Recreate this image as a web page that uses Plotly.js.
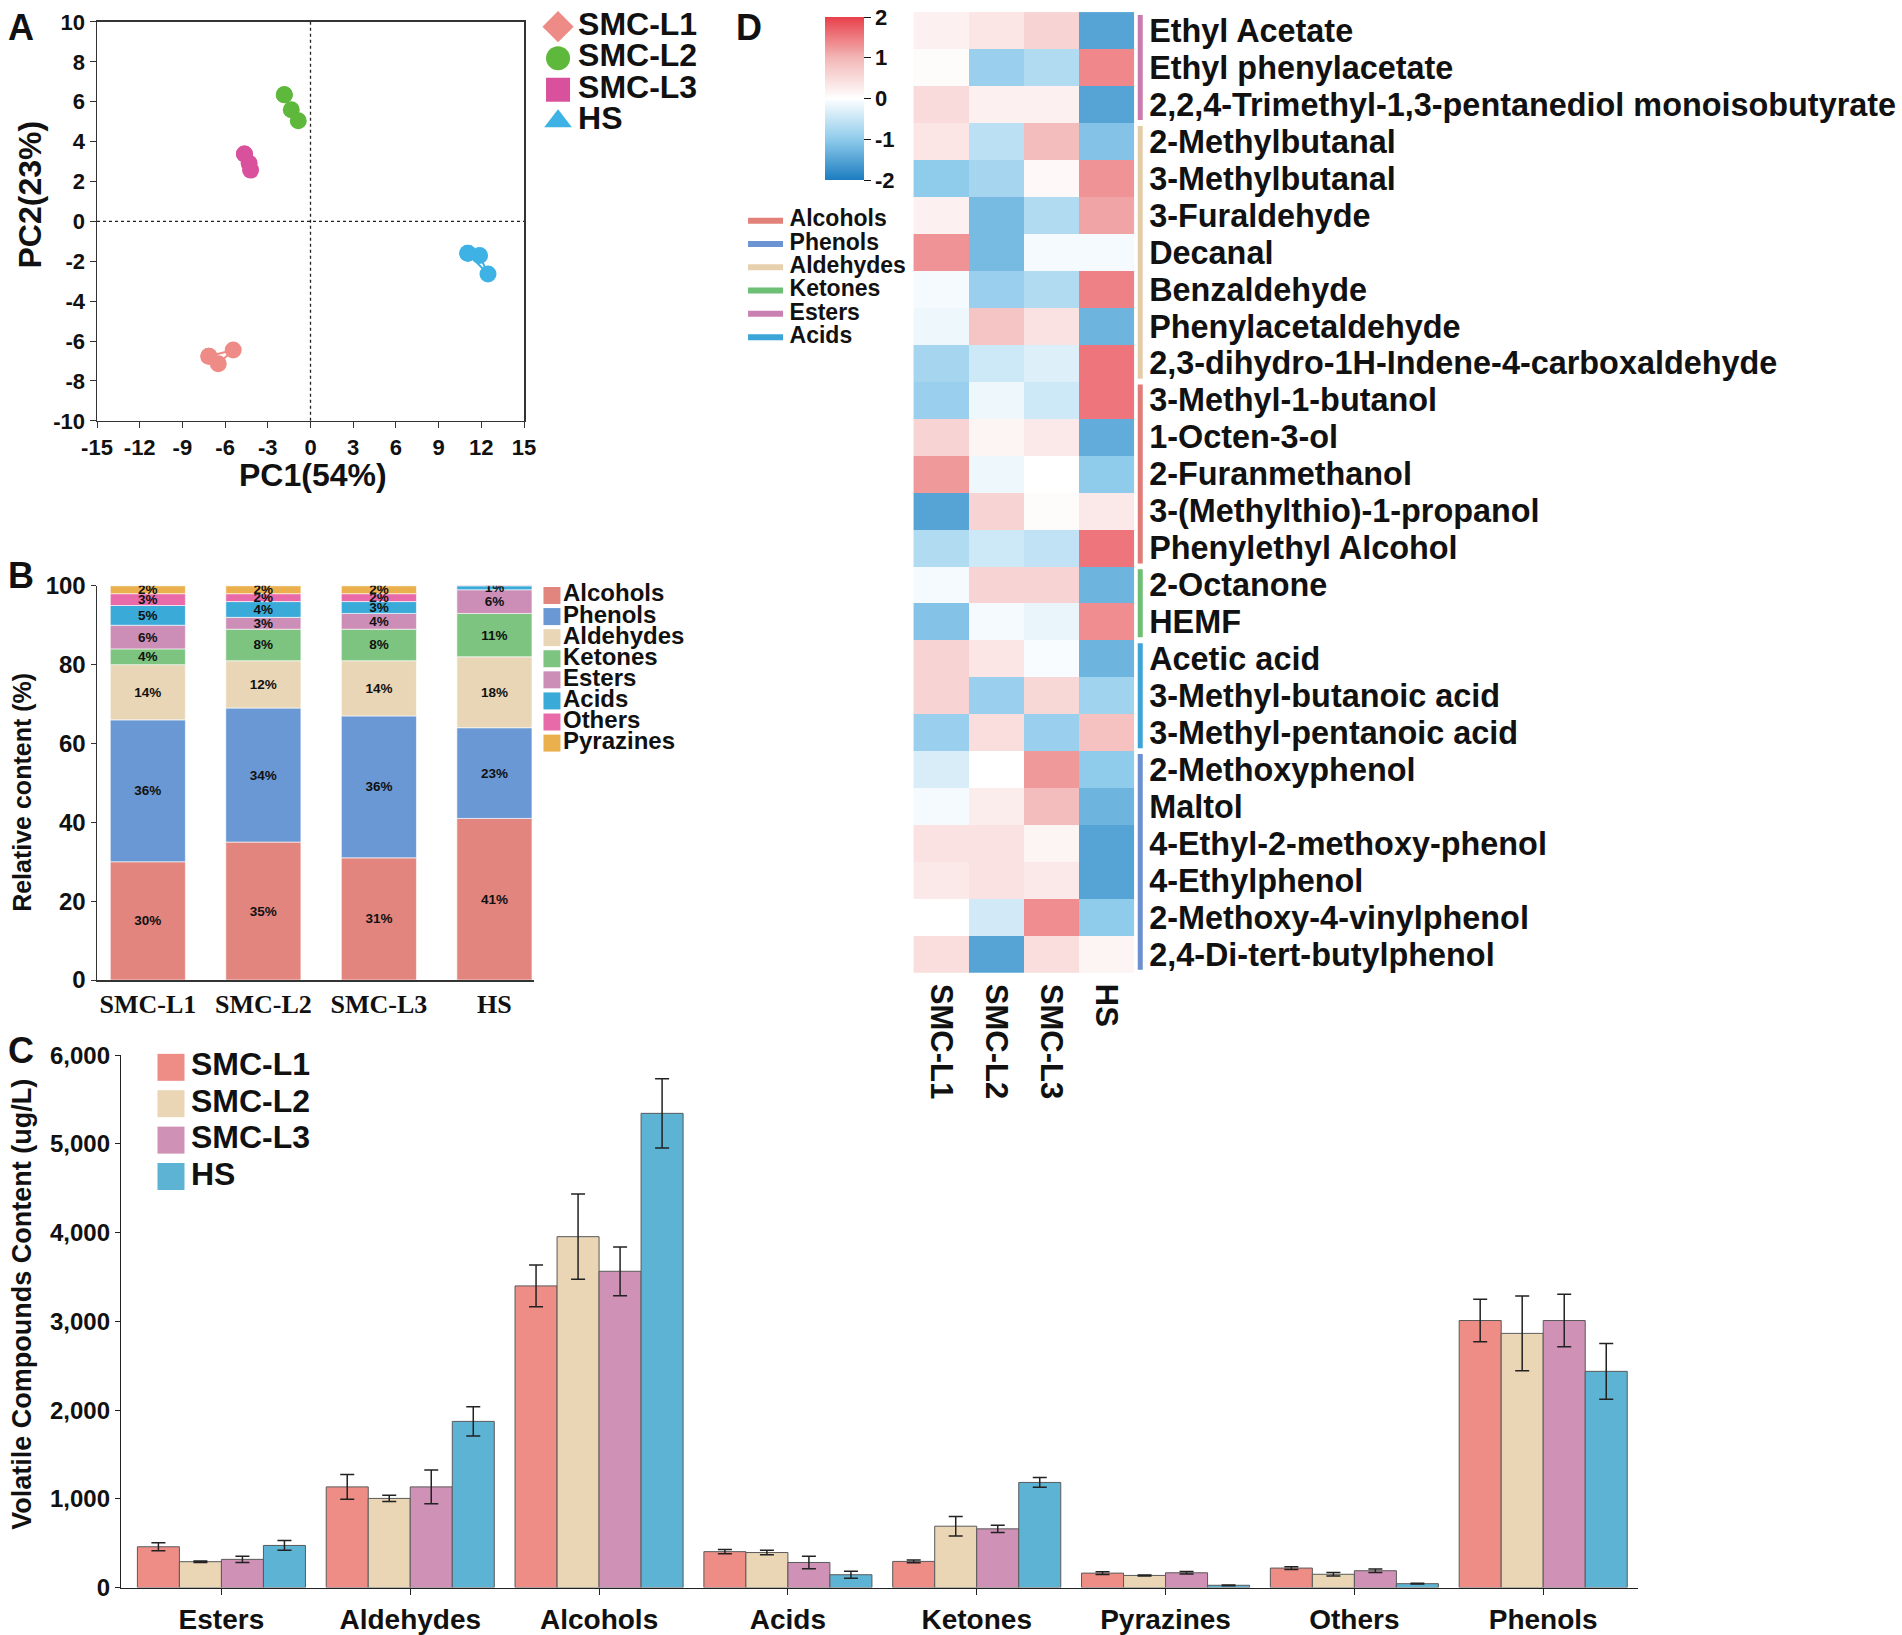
<!DOCTYPE html>
<html><head><meta charset="utf-8">
<script src="https://cdn.plot.ly/plotly-3.0.1.min.js"></script>
<style>html,body{margin:0;padding:0;background:#fff;}#chart{width:1902px;height:1635px;}</style>
</head><body><div id="chart"></div>
<script>
// ---------- Panel A : PCA scores ----------
const pcaGroups = ['SMC-L1', 'SMC-L2', 'SMC-L3', 'HS'];
const pc1_L1 = [-7.14, -6.48, -5.43];
const pc2_L1 = [-6.76, -7.14, -6.45];
const pc1_L2 = [-1.84, -1.35, -0.86];
const pc2_L2 = [6.35, 5.60, 5.04];
const pc1_L3 = [-4.64, -4.31, -4.21];
const pc2_L3 = [3.38, 2.91, 2.57];
const pc1_HS = [11.05, 11.88, 12.47];
const pc2_HS = [-1.60, -1.71, -2.64];
const pc1Ticks = [-15, -12, -9, -6, -3, 0, 3, 6, 9, 12, 15];
const pc2Ticks = [-10, -8, -6, -4, -2, 0, 2, 4, 6, 8, 10];
const pcaColors = ['#EE8B86', '#5DB83C', '#D9509C', '#3EB2E4'];
const pcaLegendSymbols = ['diamond', 'circle', 'square', 'triangle-up'];

// ---------- Panel B : relative content (%) ----------
const sampleNames = ['SMC-L1', 'SMC-L2', 'SMC-L3', 'HS'];
const classNames = ['Alcohols', 'Phenols', 'Aldehydes', 'Ketones', 'Esters', 'Acids', 'Others', 'Pyrazines'];
const pctAlcohols = [30, 35, 31, 41];
const pctPhenols = [36, 34, 36, 23];
const pctAldehydes = [14, 12, 14, 18];
const pctKetones = [4, 8, 8, 11];
const pctEsters = [6, 3, 4, 6];
const pctAcids = [5, 4, 3, 1];
const pctOthers = [3, 2, 2, 0.4];
const pctPyrazines = [2, 2, 2, 0.3];
const pctTicks = [0, 20, 40, 60, 80, 100];
const classColors = ['#E2857E', '#6A98D4', '#E9D6B6', '#7CC47F', '#CC8DB6', '#3AAAD9', '#E86AA8', '#EBB04E'];

// ---------- Panel C : volatile compound content (ug/L) ----------
const vocCategories = ['Esters', 'Aldehydes', 'Alcohols', 'Acids', 'Ketones', 'Pyrazines', 'Others', 'Phenols'];
const voc_L1 = [460, 1135, 3400, 405, 295, 163, 220, 3010];
const err_L1 = [45, 140, 235, 25, 15, 15, 15, 240];
const voc_L2 = [292, 1005, 3955, 395, 692, 137, 150, 2865];
const err_L2 = [8, 35, 480, 25, 110, 6, 20, 420];
const voc_L3 = [318, 1135, 3565, 283, 662, 167, 190, 3010];
const err_L3 = [35, 190, 275, 70, 40, 15, 20, 295];
const voc_HS = [475, 1873, 5345, 145, 1185, 26, 44, 2437];
const err_HS = [55, 165, 390, 40, 55, 4, 4, 315];
const vocTicks = [0, 1000, 2000, 3000, 4000, 5000, 6000];
const vocColors = ['#EE8D86', '#EAD5B4', '#CF91B6', '#5CB3D4'];

// ---------- Panel D : heatmap (z-scores) ----------
const compoundNames = ['Ethyl Acetate', 'Ethyl phenylacetate', '2,2,4-Trimethyl-1,3-pentanediol monoisobutyrate',
  '2-Methylbutanal', '3-Methylbutanal', '3-Furaldehyde', 'Decanal', 'Benzaldehyde', 'Phenylacetaldehyde',
  '2,3-dihydro-1H-Indene-4-carboxaldehyde', '3-Methyl-1-butanol', '1-Octen-3-ol', '2-Furanmethanol',
  '3-(Methylthio)-1-propanol', 'Phenylethyl Alcohol', '2-Octanone', 'HEMF', 'Acetic acid',
  '3-Methyl-butanoic acid', '3-Methyl-pentanoic acid', '2-Methoxyphenol', 'Maltol',
  '4-Ethyl-2-methoxy-phenol', '4-Ethylphenol', '2-Methoxy-4-vinylphenol', '2,4-Di-tert-butylphenol'];
const compoundClass = ['Esters', 'Esters', 'Esters',
  'Aldehydes', 'Aldehydes', 'Aldehydes', 'Aldehydes', 'Aldehydes', 'Aldehydes', 'Aldehydes',
  'Alcohols', 'Alcohols', 'Alcohols', 'Alcohols', 'Alcohols',
  'Ketones', 'Ketones', 'Acids', 'Acids', 'Acids',
  'Phenols', 'Phenols', 'Phenols', 'Phenols', 'Phenols', 'Phenols'];
const zScores = [
  [0.20, 0.35, 0.60, -1.50],
  [0.05, -0.90, -0.70, 1.40],
  [0.50, 0.20, 0.20, -1.50],
  [0.35, -0.60, 0.90, -1.10],
  [-1.00, -0.80, 0.10, 1.30],
  [0.20, -1.20, -0.70, 1.15],
  [1.30, -1.20, -0.10, -0.10],
  [-0.10, -0.90, -0.70, 1.45],
  [-0.15, 0.80, 0.40, -1.30],
  [-0.80, -0.45, -0.30, 1.55],
  [-0.90, -0.15, -0.45, 1.55],
  [0.60, 0.15, 0.30, -1.40],
  [1.25, -0.15, 0.00, -1.00],
  [-1.50, 0.60, 0.05, 0.30],
  [-0.70, -0.45, -0.55, 1.55],
  [-0.10, 0.60, 0.60, -1.30],
  [-1.10, -0.10, -0.20, 1.35],
  [0.60, 0.35, -0.05, -1.30],
  [0.60, -0.90, 0.55, -0.85],
  [-0.90, 0.45, -0.90, 0.85],
  [-0.35, 0.00, 1.25, -1.00],
  [-0.10, 0.25, 0.90, -1.30],
  [0.40, 0.40, 0.15, -1.50],
  [0.30, 0.40, 0.30, -1.50],
  [0.00, -0.40, 1.35, -1.00],
  [0.45, -1.50, 0.45, 0.15]
];
const heatTicks = [-2, -1, 0, 1, 2];
const heatLegendClasses = ['Alcohols', 'Phenols', 'Aldehydes', 'Ketones', 'Esters', 'Acids'];
const heatLegendColors = ['#E2807A', '#6C93D2', '#E6D0AE', '#6CBF74', '#CB80B2', '#3AA5D8'];
const groupLineColors = {Esters: '#C97BAE', Aldehydes: '#E3CDA8', Alcohols: '#E07D78', Ketones: '#6EBE73', Acids: '#3CA4D7', Phenols: '#6A90CF'};

// ================= build =================
const FONT = 'Liberation Sans, Arial, Helvetica, sans-serif';
const SERIF = 'Liberation Serif, Times New Roman, serif';
const W = 1902;
const traces = [];
const layout = {
  width: 1902, height: 1635, margin: {l: 0, r: 0, t: 0, b: 0},
  paper_bgcolor: '#fff', plot_bgcolor: 'rgba(0,0,0,0)', showlegend: false,
  barmode: 'group', bargap: 0.11, bargroupgap: 0,
  font: {family: FONT, color: '#111'},
  shapes: [], annotations: []
};
const tf = (s, fam) => ({family: fam || FONT, size: s, color: '#111', weight: 'bold'});
const hyph = arr => arr.map(v => String(v));

// ---- A
const pc1Sets = [pc1_L1, pc1_L2, pc1_L3, pc1_HS];
const pc2Sets = [pc2_L1, pc2_L2, pc2_L3, pc2_HS];
pcaGroups.forEach((g, i) => {
  traces.push({type: 'scatter', mode: 'lines+markers', xaxis: 'x', yaxis: 'y', name: g,
    x: pc1Sets[i].concat([pc1Sets[i][0]]), y: pc2Sets[i].concat([pc2Sets[i][0]]),
    line: {color: pcaColors[i], width: 2}, marker: {size: 17, color: pcaColors[i]}, hoverinfo: 'skip'});
});
layout.xaxis = {domain: [0.051, 0.2755], range: [-15, 15], tickvals: pc1Ticks, ticktext: hyph(pc1Ticks), anchor: 'y',
  showline: true, mirror: true, linecolor: '#333', linewidth: 1.5, ticks: 'outside', ticklen: 6, tickcolor: '#333',
  showgrid: false, zeroline: false, tickfont: tf(22), automargin: false};
layout.yaxis = {domain: [0.7426, 0.9866], range: [-10, 10], tickvals: pc2Ticks, ticktext: hyph(pc2Ticks), anchor: 'x',
  showline: true, mirror: true, linecolor: '#333', linewidth: 1.5, ticks: 'outside', ticklen: 6, tickcolor: '#333',
  showgrid: false, zeroline: false, tickfont: tf(22), automargin: false};
layout.shapes.push({type: 'line', xref: 'x', yref: 'y domain', x0: 0, x1: 0, y0: 0, y1: 1, line: {color: '#222', width: 1.3, dash: 'dot'}});
layout.shapes.push({type: 'line', xref: 'x domain', yref: 'y', x0: 0, x1: 1, y0: 0, y1: 0, line: {color: '#222', width: 1.3, dash: 'dot'}});

// ---- B (stacked via explicit base)
const pctByClass = [pctAlcohols, pctPhenols, pctAldehydes, pctKetones, pctEsters, pctAcids, pctOthers, pctPyrazines];
const cum = sampleNames.map(() => 0);
pctByClass.forEach((vals, k) => {
  traces.push({type: 'bar', xaxis: 'x2', yaxis: 'y2', name: classNames[k], x: sampleNames, y: vals,
    base: cum.slice(), width: 0.65, offset: -0.325,
    marker: {color: classColors[k], line: {color: 'rgba(255,255,255,0.6)', width: 1}},
    text: vals.map(v => v >= 0.5 ? Math.round(v) + '%' : ''), textposition: 'inside', insidetextanchor: 'middle',
    constraintext: 'none', textangle: 0, textfont: {family: FONT, size: 13.5, color: '#111', weight: 'bold'}, hoverinfo: 'skip'});
  vals.forEach((v, j) => cum[j] += v);
});
layout.xaxis2 = {domain: [0.051, 0.2806], range: [-0.44, 3.34], anchor: 'y2', type: 'category',
  showline: true, linecolor: '#333', linewidth: 1.5, ticks: '', showgrid: false, zeroline: false,
  tickfont: tf(26, SERIF), automargin: false};
layout.yaxis2 = {domain: [0.4006, 0.6417], range: [0, 100], tickvals: pctTicks, anchor: 'x2',
  showline: true, linecolor: '#333', linewidth: 1.5, ticks: 'outside', ticklen: 5, tickcolor: '#333',
  showgrid: false, zeroline: false, tickfont: tf(24), automargin: false};

// ---- C
const vocSets = [voc_L1, voc_L2, voc_L3, voc_HS];
const errSets = [err_L1, err_L2, err_L3, err_HS];
sampleNames.forEach((s, i) => {
  traces.push({type: 'bar', xaxis: 'x3', yaxis: 'y3', name: s, x: vocCategories, y: vocSets[i],
    marker: {color: vocColors[i], line: {color: '#5a5a5a', width: 1}},
    error_y: {type: 'data', array: errSets[i], visible: true, color: '#222', thickness: 1.5, width: 7}, hoverinfo: 'skip'});
});
layout.xaxis3 = {domain: [0.0638, 0.861], range: [-0.53, 7.5], anchor: 'y3', type: 'category',
  showline: true, linecolor: '#222', linewidth: 1.5, ticks: 'outside', ticklen: 6, tickcolor: '#222',
  showgrid: false, zeroline: false, tickfont: tf(28), automargin: false};
layout.yaxis3 = {domain: [0.029, 0.3546], range: [0, 6000], tickvals: vocTicks, tickformat: ',', anchor: 'x3',
  showline: true, linecolor: '#222', linewidth: 1.5, ticks: 'outside', ticklen: 5, tickcolor: '#222',
  showgrid: false, zeroline: false, tickfont: tf(24), automargin: false};

// ---- D heatmap
const rowIdx = compoundNames.map((_, i) => i);
traces.push({type: 'heatmap', xaxis: 'x4', yaxis: 'y4', x: sampleNames, y: rowIdx, z: zScores,
  zmin: -2, zmax: 2, xgap: 0, ygap: 0, hoverinfo: 'skip',
  colorscale: [[0, '#1C7DC0'], [0.25, '#8FCBEB'], [0.5, '#FFFFFF'], [0.75, '#F3B6B6'], [1, '#E8404A']],
  colorbar: {x: 0.4337, xanchor: 'left', xref: 'paper', y: 0.9896, yanchor: 'top', yref: 'paper',
    len: 163, lenmode: 'pixels', thickness: 39, thicknessmode: 'pixels', tickvals: heatTicks, ticktext: hyph(heatTicks),
    ticks: 'outside', ticklen: 7, tickcolor: '#111', tickfont: tf(22), outlinewidth: 0, xpad: 0, ypad: 0}});
layout.xaxis4 = {domain: [0.4802, 0.5963], anchor: 'y4', type: 'category', tickangle: 90, ticks: '',
  ticklabelstandoff: 10, showgrid: false, zeroline: false, showline: false, tickfont: tf(31), automargin: false};
layout.yaxis4 = {domain: [0.405, 0.9926], range: [compoundNames.length - 0.5, -0.5], anchor: 'x4',
  tickvals: rowIdx, ticktext: compoundNames, side: 'right', ticks: '', ticklabelstandoff: 14,
  showgrid: false, zeroline: false, showline: false, tickfont: tf(32.4), automargin: false};

// group bars beside heatmap (from contiguous class runs)
let start = 0;
for (let i = 1; i <= compoundClass.length; i++) {
  if (i === compoundClass.length || compoundClass[i] !== compoundClass[start]) {
    traces.push({type: 'scatter', mode: 'lines', xaxis: 'x5', yaxis: 'y4', x: [0.5, 0.5],
      y: [start - 0.42, i - 1 + 0.42], line: {color: groupLineColors[compoundClass[start]], width: 5},
      cliponaxis: false, hoverinfo: 'skip'});
    start = i;
  }
}
layout.xaxis5 = {domain: [0.5963, 0.6027], range: [0, 1], anchor: 'y4', visible: false};

// ---- custom legends on helper axes (x units = pixels)
function legendAxes(n, xl, yTop, sp, xi) {
  const wFrac = Math.min(0.15, 1 - xl);
  layout['xaxis' + xi] = {domain: [xl, xl + wFrac], range: [0, wFrac * W], visible: false, anchor: 'y' + xi, fixedrange: true};
  layout['yaxis' + xi] = {domain: [yTop + 0.5 * sp - n * sp, yTop + 0.5 * sp], range: [n - 0.5, -0.5], visible: false, anchor: 'x' + xi, fixedrange: true};
}
function legendTrace(names, xi, marker, fsize, textGap) {
  traces.push({type: 'scatter', mode: 'markers', xaxis: 'x' + xi, yaxis: 'y' + xi,
    x: names.map(() => 0), y: names.map((_, i) => i), marker: marker, cliponaxis: false, hoverinfo: 'skip'});
  traces.push({type: 'scatter', mode: 'text', xaxis: 'x' + xi, yaxis: 'y' + xi,
    x: names.map(() => textGap), y: names.map((_, i) => i), text: names.map(n => '<b>' + n + '</b>'),
    textposition: 'middle right', textfont: {family: FONT, size: fsize, color: '#111'}, cliponaxis: false, hoverinfo: 'skip'});
}
legendAxes(4, 0.2934, 0.9837, 0.01929, 6);
legendTrace(pcaGroups, 6, {symbol: pcaLegendSymbols, color: pcaColors, size: 24}, 32, 20);
legendAxes(8, 0.2902, 0.6358, 0.0129, 7);
legendTrace(classNames, 7, {symbol: 'square', color: classColors, size: 17}, 24, 11);
legendAxes(4, 0.0899, 0.3472, 0.02226, 8);
legendTrace(sampleNames, 8, {symbol: 'square', color: vocColors, size: 27}, 32, 20);
legendAxes(6, 0.4025, 0.865, 0.01424, 9);
legendTrace(heatLegendClasses, 9, {symbol: 'line-ew', size: 25, line: {color: heatLegendColors, width: 6}}, 23, 24);

// ---- annotations: panel letters & axis titles
const ann = (text, x, y, size, extra) => Object.assign({xref: 'paper', yref: 'paper', x: x, y: y, text: '<b>' + text + '</b>',
  showarrow: false, font: {family: FONT, size: size, color: '#111'}}, extra || {});
layout.annotations.push(ann('A', 0.003, 0.997, 36, {xanchor: 'left', yanchor: 'top'}));
layout.annotations.push(ann('B', 0.003, 0.662, 36, {xanchor: 'left', yanchor: 'top'}));
layout.annotations.push(ann('C', 0.003, 0.371, 36, {xanchor: 'left', yanchor: 'top'}));
layout.annotations.push(ann('D', 0.386, 0.997, 36, {xanchor: 'left', yanchor: 'top'}));
layout.annotations.push(ann('PC1(54%)', 0.1645, 0.7092, 32, {xanchor: 'center', yanchor: 'middle'}));
layout.annotations.push(ann('PC2(23%)', 0.016, 0.8813, 32, {xanchor: 'center', yanchor: 'middle', textangle: -90}));
layout.annotations.push(ann('Relative content (%)', 0.0115, 0.5156, 25, {xanchor: 'center', yanchor: 'middle', textangle: -90}));
layout.annotations.push(ann('Volatile Compounds Content (ug/L)', 0.0115, 0.2025, 27, {xanchor: 'center', yanchor: 'middle', textangle: -90}));

Plotly.newPlot('chart', traces, layout, {staticPlot: true, displayModeBar: false});
</script></body></html>
